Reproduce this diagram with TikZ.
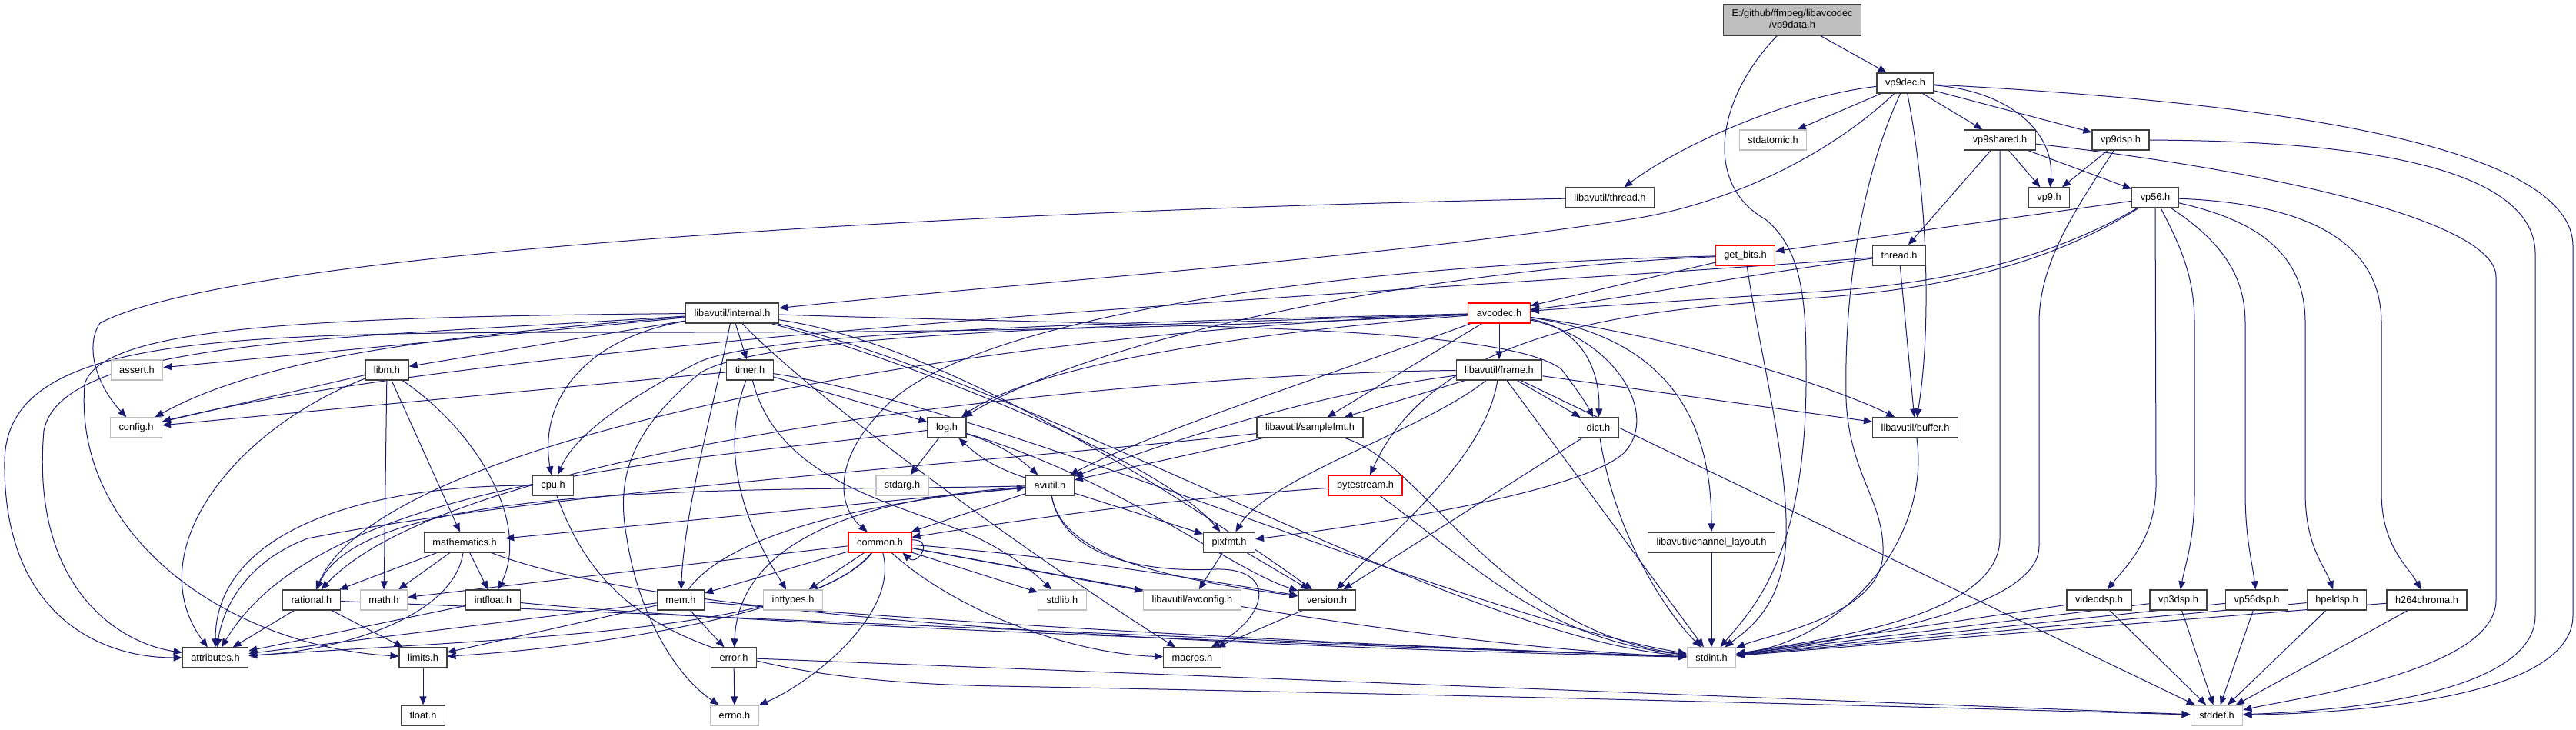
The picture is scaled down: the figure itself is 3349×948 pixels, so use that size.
\documentclass[tikz,border=0pt]{standalone}
\usepackage{fontspec}
\setmainfont{Liberation Sans}
\usetikzlibrary{arrows.meta}
\pgfdeclarelayer{bg}
\pgfsetlayers{bg,main}
\definecolor{depblue}{HTML}{191970}
\definecolor{extgray}{HTML}{BFBFBF}
\begin{document}
\begin{tikzpicture}[x=1pt, y=-1pt,
    hdr/.style={draw=black!75, line width=1.3pt, fill=white, inner xsep=11pt, inner ysep=0pt, minimum height=26pt, font=\fontsize{12.8}{15}\selectfont},
    sysh/.style={hdr, draw=extgray},
    redh/.style={hdr, draw=red},
    rooth/.style={hdr, fill=extgray, align=center, minimum height=40pt},
    dep/.style={draw=depblue, line width=1pt, -{Triangle[length=11pt, width=9pt]}}]
  \useasboundingbox (0,0) rectangle (3349,948);
  \node[rooth] (root) at (2330,26) {E:/github/ffmpeg/libavcodec\\/vp9data.h};
  \node[hdr] (vp9dec) at (2477,108) {vp9dec.h};
  \node[sysh] (stdatomic) at (2305,182) {stdatomic.h};
  \node[hdr] (vp9shared) at (2600,182) {vp9shared.h};
  \node[hdr] (vp9dsp) at (2757,182) {vp9dsp.h};
  \node[hdr] (vp9) at (2664,257) {vp9.h};
  \node[hdr] (vp56) at (2802,257) {vp56.h};
  \node[hdr] (libthread) at (2093,257) {libavutil/thread.h};
  \node[redh] (getbits) at (2269,332) {get\_bits.h};
  \node[hdr] (thread) at (2469,332) {thread.h};
  \node[hdr] (internal) at (952,407) {libavutil/internal.h};
  \node[redh] (avcodec) at (1949,407) {avcodec.h};
  \node[hdr] (frame) at (1949,481) {libavutil/frame.h};
  \node[hdr] (timer) at (975,481) {timer.h};
  \node[sysh] (assert) at (178,481) {assert.h};
  \node[hdr] (libm) at (503,481) {libm.h};
  \node[sysh] (config) at (177,556) {config.h};
  \node[hdr] (log) at (1231,556) {log.h};
  \node[hdr] (samplefmt) at (1703,556) {libavutil/samplefmt.h};
  \node[hdr] (dict) at (2078,556) {dict.h};
  \node[hdr] (buffer) at (2490,556) {libavutil/buffer.h};
  \node[hdr] (cpu) at (719,631) {cpu.h};
  \node[sysh] (stdarg) at (1173,631) {stdarg.h};
  \node[hdr] (avutil) at (1365,631) {avutil.h};
  \node[redh] (bytestream) at (1775,631) {bytestream.h};
  \node[hdr] (mathematics) at (604,705) {mathematics.h};
  \node[redh] (common) at (1144,705) {common.h};
  \node[hdr] (pixfmt) at (1598,705) {pixfmt.h};
  \node[hdr] (chlayout) at (2225,705) {libavutil/channel\_layout.h};
  \node[hdr] (rational) at (405,780) {rational.h};
  \node[sysh] (math) at (499,780) {math.h};
  \node[hdr] (intfloat) at (641,780) {intfloat.h};
  \node[hdr] (mem) at (885,780) {mem.h};
  \node[sysh] (inttypes) at (1031,780) {inttypes.h};
  \node[sysh] (stdlib) at (1381,780) {stdlib.h};
  \node[sysh] (avconfig) at (1550,780) {libavutil/avconfig.h};
  \node[hdr] (version) at (1725,780) {version.h};
  \node[hdr] (videodsp) at (2729,780) {videodsp.h};
  \node[hdr] (vp3dsp) at (2832,780) {vp3dsp.h};
  \node[hdr] (vp56dsp) at (2934,780) {vp56dsp.h};
  \node[hdr] (hpeldsp) at (3038,780) {hpeldsp.h};
  \node[hdr] (h264chroma) at (3155,780) {h264chroma.h};
  \node[hdr] (attributes) at (280,855) {attributes.h};
  \node[hdr] (limits) at (550,855) {limits.h};
  \node[hdr] (error) at (954,855) {error.h};
  \node[hdr] (macros) at (1550,855) {macros.h};
  \node[sysh] (stdint) at (2225,855) {stdint.h};
  \node[hdr] (float) at (550,930) {float.h};
  \node[sysh] (errno) at (955,930) {errno.h};
  \node[sysh] (stddef) at (2882,930) {stddef.h};
  \begin{pgfonlayer}{bg}
  \fill[white] (0,0) rectangle (3349,948);
  \draw[dep] (root) -- (vp9dec);
  \draw[dep] (root) .. controls (2230,130) and (2215,240) .. (2295,285) .. controls (2345,325) and (2348,400) .. (2348,480) .. controls (2350,720) and (2280,790) .. (stdint);
  \draw[dep] (vp9dec) -- (stdatomic);
  \draw[dep] (vp9dec) -- (vp9shared);
  \draw[dep] (vp9dec) -- (vp9dsp);
  \draw[dep] (vp9dec) .. controls (2610,118) and (2672,170) .. (vp9);
  \draw[dep] (vp9dec) .. controls (2900,130) and (3345,180) .. (3345,320) -- (3345,800) .. controls (3345,900) and (3100,926) .. (stddef);
  \draw[dep] (vp9dec) .. controls (2420,230) and (2397,380) .. (2400,520) .. controls (2405,620) and (2450,650) .. (2448,720) .. controls (2445,800) and (2300,825) .. (stdint);
  \draw[dep] (vp9dec) .. controls (2505,250) and (2512,420) .. (buffer);
  \draw[dep] (vp9dec) .. controls (2330,125) and (2190,185) .. (libthread);
  \draw[dep] (vp9dec) .. controls (2380,200) and (2250,265) .. (2120,285) .. controls (1800,335) and (1300,370) .. (internal);
  \draw[dep] (vp9shared) -- (thread);
  \draw[dep] (vp9shared) -- (vp9);
  \draw[dep] (vp9shared) -- (vp56);
  \draw[dep] (vp9shared) -- (2600,700) .. controls (2600,800) and (2380,830) .. (stdint);
  \draw[dep] (vp9shared) .. controls (2900,215) and (3245,280) .. (3245,360) -- (3245,780) .. controls (3245,870) and (3000,905) .. (stddef);
  \draw[dep] (vp9dsp) -- (vp9);
  \draw[dep] (vp9dsp) .. controls (2700,270) and (2651,340) .. (2651,420) -- (2651,710) .. controls (2651,790) and (2420,830) .. (stdint);
  \draw[dep] (vp9dsp) .. controls (3150,183) and (3296,240) .. (3296,330) -- (3296,800) .. controls (3296,890) and (3100,922) .. (stddef);
  \draw[dep] (vp56) -- (getbits);
  \draw[dep] (vp56) .. controls (2650,345) and (2500,372) .. (2350,380) .. controls (2200,390) and (2050,400) .. (avcodec);
  \draw[dep] (vp56) .. controls (2650,352) and (2500,378) .. (2350,388) .. controls (2150,402) and (1870,420) .. (bytestream);
  \draw[dep] (vp56) -- (2803,630) .. controls (2803,700) and (2765,735) .. (videodsp);
  \draw[dep] (vp56) .. controls (2835,320) and (2853,360) .. (2853,420) -- (2853,640) .. controls (2853,700) and (2842,730) .. (vp3dsp);
  \draw[dep] (vp56) .. controls (2890,315) and (2919,360) .. (2919,420) -- (2919,640) .. controls (2919,700) and (2928,730) .. (vp56dsp);
  \draw[dep] (vp56) .. controls (2950,290) and (2997,340) .. (2997,420) -- (2997,640) .. controls (2997,710) and (3022,735) .. (hpeldsp);
  \draw[dep] (vp56) .. controls (3010,265) and (3096,320) .. (3096,420) -- (3096,640) .. controls (3096,710) and (3130,735) .. (h264chroma);
  \draw[dep] (thread) .. controls (2300,352) and (2100,390) .. (avcodec);
  \draw[dep] (thread) -- (buffer);
  \draw[dep] (thread) .. controls (2000,370) and (700,430) .. (config);
  \draw[dep] (getbits) -- (avcodec);
  \draw[dep] (getbits) .. controls (2290,470) and (2325,600) .. (2322,700) .. controls (2318,790) and (2270,820) .. (stdint);
  \draw[dep] (getbits) .. controls (1850,350) and (1420,440) .. (log);
  \draw[dep] (getbits) .. controls (1700,345) and (1250,420) .. (1150,530) .. controls (1080,600) and (1090,660) .. (common);
  \draw[dep] (libthread) .. controls (1200,275) and (300,330) .. (130,420) .. controls (110,450) and (125,500) .. (config);
  \draw[dep] (internal) -- (assert);
  \draw[dep] (internal) .. controls (600,435) and (350,460) .. (config);
  \draw[dep] (internal) -- (libm);
  \draw[dep] (internal) -- (timer);
  \draw[dep] (internal) .. controls (760,440) and (700,520) .. (cpu);
  \draw[dep] (internal) .. controls (930,520) and (890,660) .. (mem);
  \draw[dep] (internal) .. controls (400,412) and (130,425) .. (110,500) .. controls (95,700) and (300,840) .. (limits);
  \draw[dep] (internal) .. controls (450,440) and (80,440) .. (57,560) .. controls (40,760) and (150,835) .. (attributes);
  \draw[dep] (internal) .. controls (1060,520) and (1350,730) .. (macros);
  \draw[dep] (internal) .. controls (1150,460) and (1500,590) .. (pixfmt);
  \draw[dep] (internal) .. controls (1250,450) and (1600,690) .. (version);
  \draw[dep] (internal) .. controls (1500,425) and (1950,420) .. (2030,480) .. controls (2045,500) and (2060,520) .. (dict);
  \draw[dep] (internal) .. controls (1350,500) and (1900,830) .. (stdint);
  \draw[dep] (timer) -- (config);
  \draw[dep] (timer) -- (log);
  \draw[dep] (timer) .. controls (930,600) and (980,700) .. (inttypes);
  \draw[dep] (timer) .. controls (1010,620) and (1150,650) .. (1250,690) .. controls (1300,710) and (1340,740) .. (stdlib);
  \draw[dep] (timer) .. controls (1300,530) and (1900,800) .. (stdint);
  \draw[dep] (libm) -- (config);
  \draw[dep] (libm) .. controls (300,560) and (180,720) .. (attributes);
  \draw[dep] (libm) -- (math);
  \draw[dep] (libm) -- (mathematics);
  \draw[dep] (libm) .. controls (620,560) and (690,680) .. (intfloat);
  \draw[dep] (log) to[bend left=12] (avutil);
  \draw[dep] (avutil) to[bend left=12] (log);
  \draw[dep] (log) -- (stdarg);
  \draw[dep] (log) .. controls (900,600) and (420,620) .. (attributes);
  \draw[dep] (log) .. controls (1450,620) and (1600,740) .. (version);
  \draw[dep] (avutil) -- (common);
  \draw[dep] (avutil) -- (pixfmt);
  \draw[dep] (avutil) .. controls (1380,720) and (1500,750) .. (version);
  \draw[dep] (avutil) .. controls (1380,720) and (1480,745) .. (1580,740) .. controls (1660,738) and (1650,800) .. (macros);
  \draw[dep] (avutil) .. controls (1000,640) and (480,620) .. (rational);
  \draw[dep] (avutil) -- (mathematics);
  \draw[dep] (avutil) .. controls (1080,650) and (960,720) .. (error);
  \draw[dep] (common) -- (mem);
  \draw[dep] (common) -- (inttypes);
  \draw[dep] (common) -- (math);
  \draw[dep] (common) .. controls (1080,790) and (800,840) .. (limits);
  \draw[dep] (common) .. controls (1050,820) and (700,828) .. (attributes);
  \draw[dep] (common) .. controls (1170,800) and (1050,890) .. (errno);
  \draw[dep] (common) .. controls (1450,760) and (1850,840) .. (stdint);
  \draw[dep] (common) -- (stdlib);
  \draw[dep] (common) -- (avconfig);
  \draw[dep] (common) .. controls (1250,800) and (1400,850) .. (macros);
  \draw[dep] (common) .. controls (1400,725) and (1600,760) .. (version);
  \draw[dep] ([yshift=3pt]common.east) .. controls +(30,-2) and +(20,18) .. ([xshift=-12pt]common.south east);
  \draw[dep] (mem) -- (error);
  \draw[dep] (mem) -- (limits);
  \draw[dep] (mem) -- (attributes);
  \draw[dep] (mem) .. controls (1300,815) and (1800,840) .. (stdint);
  \draw[dep] (mem) .. controls (950,690) and (1150,650) .. (avutil);
  \draw[dep] (error) -- (errno);
  \draw[dep] (error) -- (stddef);
  \draw[dep] (rational) -- (attributes);
  \draw[dep] (rational) -- (limits);
  \draw[dep] (rational) .. controls (900,800) and (1800,840) .. (stdint);
  \draw[dep] (mathematics) -- (rational);
  \draw[dep] (mathematics) -- (math);
  \draw[dep] (mathematics) -- (intfloat);
  \draw[dep] (mathematics) .. controls (590,800) and (450,845) .. (attributes);
  \draw[dep] (mathematics) .. controls (900,820) and (1800,845) .. (stdint);
  \draw[dep] (intfloat) -- (attributes);
  \draw[dep] (intfloat) .. controls (1000,815) and (1800,840) .. (stdint);
  \draw[dep] (cpu) .. controls (450,631) and (280,700) .. (attributes);
  \draw[dep] (cpu) .. controls (780,800) and (900,885) .. (1300,892) .. controls (2000,905) and (2600,922) .. (stddef);
  \draw[dep] (limits) -- (float);
  \draw[dep] (pixfmt) -- (avconfig);
  \draw[dep] (pixfmt) -- (version);
  \draw[dep] (version) -- (macros);
  \draw[dep] (dict) -- (version);
  \draw[dep] (dict) .. controls (2100,700) and (2170,800) .. (stdint);
  \draw[dep] (samplefmt) -- (avutil);
  \draw[dep] (samplefmt) .. controls (1300,600) and (700,640) .. (400,700) .. controls (320,730) and (290,790) .. (attributes);
  \draw[dep] (samplefmt) .. controls (1850,600) and (1950,820) .. (stdint);
  \draw[dep] (frame) -- (samplefmt);
  \draw[dep] (frame) .. controls (1800,500) and (1640,530) .. (avutil);
  \draw[dep] (frame) -- (buffer);
  \draw[dep] (frame) -- (dict);
  \draw[dep] (frame) .. controls (1500,485) and (600,570) .. (rational);
  \draw[dep] (frame) .. controls (1850,560) and (1650,620) .. (pixfmt);
  \draw[dep] (frame) .. controls (1930,600) and (1800,700) .. (version);
  \draw[dep] (frame) -- (stdint);
  \draw[dep] (frame) -- (stddef);
  \draw[dep] (avcodec) -- (frame);
  \draw[dep] (avcodec) -- (samplefmt);
  \draw[dep] (avcodec) .. controls (1750,480) and (1500,560) .. (avutil);
  \draw[dep] (avcodec) .. controls (1650,430) and (1350,470) .. (log);
  \draw[dep] (avcodec) .. controls (1500,430) and (1100,432) .. (880,432) .. controls (300,432) and (8,430) .. (6,600) .. controls (4,790) and (120,855) .. (attributes);
  \draw[dep] (avcodec) .. controls (1300,430) and (500,560) .. (rational);
  \draw[dep] (avcodec) .. controls (1400,420) and (1000,432) .. (910,470) .. controls (830,510) and (750,560) .. (cpu);
  \draw[dep] (avcodec) .. controls (1400,425) and (990,435) .. (910,485) .. controls (820,560) and (800,620) .. (815,700) .. controls (830,800) and (880,880) .. (errno);
  \draw[dep] (avcodec) .. controls (2200,440) and (2400,510) .. (buffer);
  \draw[dep] (avcodec) .. controls (2180,440) and (2225,560) .. (chlayout);
  \draw[dep] (avcodec) .. controls (2070,430) and (2080,500) .. (dict);
  \draw[dep] (avcodec) .. controls (2100,440) and (2160,540) .. (2110,590) .. controls (2050,640) and (1800,680) .. (pixfmt);
  \draw[dep] (buffer) .. controls (2510,700) and (2400,830) .. (stdint);
  \draw[dep] (chlayout) -- (stdint);
  \draw[dep] (bytestream) .. controls (1500,650) and (1300,680) .. (common);
  \draw[dep] (bytestream) .. controls (1900,720) and (2000,830) .. (stdint);
  \draw[dep] (videodsp) -- (stdint);
  \draw[dep] (videodsp) -- (stddef);
  \draw[dep] (vp3dsp) -- (stdint);
  \draw[dep] (vp3dsp) -- (stddef);
  \draw[dep] (vp56dsp) -- (stdint);
  \draw[dep] (vp56dsp) -- (stddef);
  \draw[dep] (hpeldsp) -- (stdint);
  \draw[dep] (hpeldsp) -- (stddef);
  \draw[dep] (h264chroma) -- (stdint);
  \draw[dep] (h264chroma) -- (stddef);
  \end{pgfonlayer}
\end{tikzpicture}
\end{document}
